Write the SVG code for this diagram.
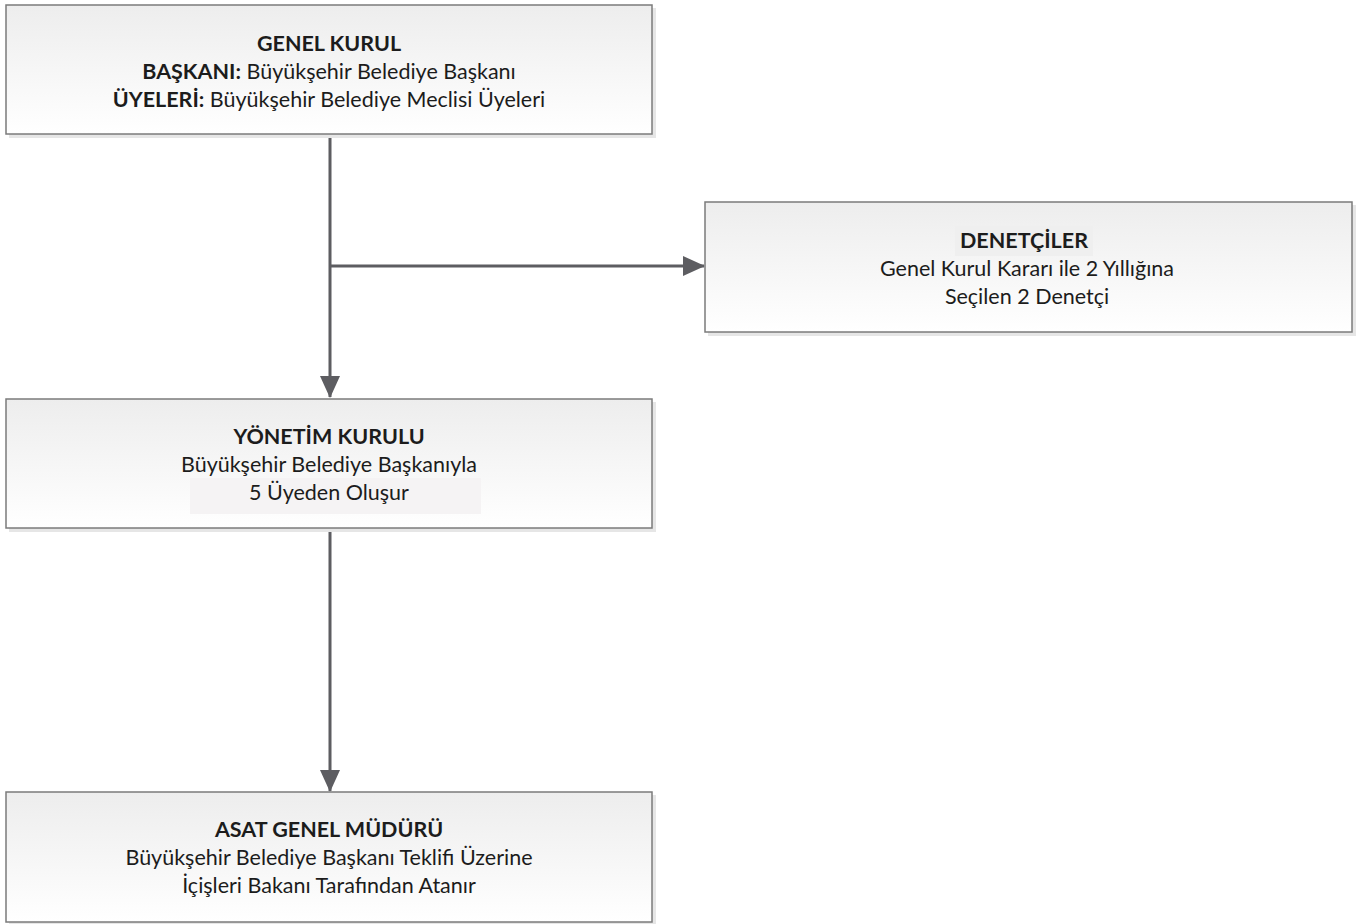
<svg xmlns="http://www.w3.org/2000/svg" width="1371" height="924" viewBox="0 0 1371 924">
<defs>
<linearGradient id="g" x1="0" y1="0" x2="0" y2="1">
<stop offset="0" stop-color="#ededed"/>
<stop offset="1" stop-color="#ffffff"/>
</linearGradient>
<marker id="ah" markerWidth="22" markerHeight="22" viewBox="0 0 22 22" refX="21" refY="11" orient="auto" markerUnits="userSpaceOnUse">
<path d="M0,1 L22,11 L0,21 Z" fill="#5d5d61"/>
</marker>
<style>
.sh{fill:#e6e6e6}
.bx{fill:url(#g);stroke:#7b7b7b;stroke-width:1.5}
text{font-family:Lato,"Liberation Sans",sans-serif;font-size:21.5px;fill:#1c1c1c;text-anchor:middle}
.b{font-weight:bold}
.c{fill:none;stroke:#5d5d61;stroke-width:3}
</style>
</defs>
<rect width="1371" height="924" fill="#ffffff"/>
<g id="connectors">
<line class="c" x1="330" y1="134" x2="330" y2="397" marker-end="url(#ah)"/>
<line class="c" x1="330" y1="266" x2="704" y2="266" marker-end="url(#ah)"/>
<line class="c" x1="330" y1="528" x2="330" y2="791" marker-end="url(#ah)"/>
</g>
<g id="genel-kurul">
<rect class="sh" x="9" y="8" width="647" height="130"/>
<rect class="bx" x="6" y="5" width="646" height="129"/>
<text x="329" y="51" class="b">GENEL KURUL</text>
<text x="329" y="79"><tspan class="b">BAŞKANI:</tspan> Büyükşehir Belediye Başkanı</text>
<text x="329" y="107"><tspan class="b">ÜYELERİ:</tspan> Büyükşehir Belediye Meclisi Üyeleri</text>
</g>
<g id="denetciler">
<rect class="sh" x="708" y="205" width="648" height="131"/>
<rect class="bx" x="705" y="202" width="647" height="130"/>
<rect x="955" y="226" width="138" height="30" fill="#efefef"/>
<text x="1024" y="248" class="b">DENETÇİLER</text>
<text x="1027" y="276">Genel Kurul Kararı ile 2 Yıllığına</text>
<text x="1027" y="304">Seçilen 2 Denetçi</text>
</g>
<g id="yonetim-kurulu">
<rect class="sh" x="9" y="402" width="647" height="130"/>
<rect class="bx" x="6" y="399" width="646" height="129"/>
<rect x="190" y="478" width="291" height="36" fill="#f5f3f4"/>
<text x="329" y="444" class="b">YÖNETİM KURULU</text>
<text x="329" y="472">Büyükşehir Belediye Başkanıyla</text>
<text x="329" y="500">5 Üyeden Oluşur</text>
</g>
<g id="asat-genel-muduru">
<rect class="sh" x="9" y="795" width="647" height="129"/>
<rect class="bx" x="6" y="792" width="646" height="130"/>
<text x="329" y="837" class="b">ASAT GENEL MÜDÜRÜ</text>
<text x="329" y="865">Büyükşehir Belediye Başkanı Teklifi Üzerine</text>
<text x="329" y="893">İçişleri Bakanı Tarafından Atanır</text>
</g>
</svg>
